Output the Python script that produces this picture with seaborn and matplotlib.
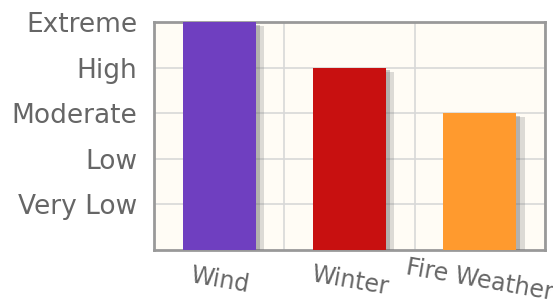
import pandas as pd
import matplotlib
matplotlib.use("Agg")
import matplotlib.pyplot as plt
import matplotlib.patheffects as pe
import seaborn as sns

# ---------------------------------------------------------
# 1. DATA
# ---------------------------------------------------------
categories = ["Wind", "Winter", "Fire Weather"]
levels = [5, 4, 3]
level_names = ["Very Low", "Low", "Moderate", "High", "Extreme"]
bar_colors = ["#6f3fc0", "#c81010", "#ff9a2e"]

df = pd.DataFrame({"hazard": categories, "level": levels})

# ---------------------------------------------------------
# 2. PLOT
# ---------------------------------------------------------
sns.set_style("white")
plt.rcParams["font.family"] = ["DejaVu Sans"]

fig = plt.figure(figsize=(5.53, 3.08), dpi=100)
ax = fig.add_axes([0.2785, 0.1883, 0.707, 0.7403])
ax.set_facecolor("#fffcf5")

sns.barplot(
    data=df, x="hazard", y="level", hue="hazard",
    palette=bar_colors, width=0.56, saturation=1, linewidth=0,
    legend=False, ax=ax, zorder=3,
)
for p in ax.patches:
    p.set_edgecolor("none")
    p.set_path_effects([
        pe.SimplePatchShadow(offset=(6, -3), shadow_rgbFace="#777777", alpha=0.25),
        pe.SimplePatchShadow(offset=(3, -2), shadow_rgbFace="#555555", alpha=0.3),
        pe.Normal(),
    ])

ax.set_ylim(0, 5)
ax.set_xlim(-0.5, 2.5)
ax.set_yticks(range(1, 6))
ax.set_yticklabels(level_names, fontsize=19, color="#666666")
ax.tick_params(axis="y", length=0, pad=12)

# boundaries as major ticks, names on minor ticks
ax.set_xticks([-0.5, 0.5, 1.5, 2.5])
ax.set_xticklabels([])
ax.set_xticks(range(len(categories)), minor=True)
ax.set_xticklabels(categories, minor=True, fontsize=17, color="#666666",
                   rotation=-10, rotation_mode="anchor", ha="center", va="center")
ax.tick_params(axis="x", which="major", length=6, width=1.5, color="#999999", direction="out")
ax.tick_params(axis="x", which="minor", length=0, pad=22)

ax.grid(True, which="major", color="#d8d8d8", linewidth=1.2, zorder=0)
ax.set_axisbelow(True)
for s in ax.spines.values():
    s.set_color("#999999")
    s.set_linewidth(2)
ax.set_xlabel("")
ax.set_ylabel("")

fig.savefig("out.png", dpi=100)
